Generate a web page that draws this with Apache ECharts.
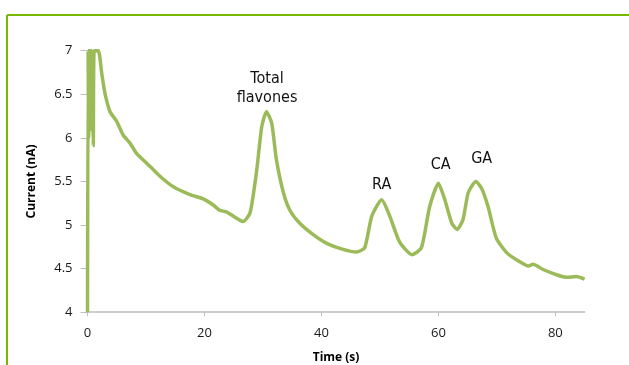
<!DOCTYPE html>
<html>
<head>
<meta charset="utf-8">
<script src="https://cdn.jsdelivr.net/npm/echarts@6/dist/echarts.min.js"></script>
<style>
  html, body { margin: 0; padding: 0; background: #fff; }
  #chart { width: 629px; height: 365px; }
</style>
</head>
<body>
<div id="chart"></div>
<script>
// time (s) and current (nA)
var times = [0, 0.1, 0.2, 0.3, 0.4, 0.5, 0.6, 0.7, 0.8, 0.99, 1.15, 1.85, 2.43, 2.99, 3.85, 4.99, 6.12, 7.26, 8.41, 10.12, 12.39, 14.67, 17.52, 19.79, 21.5, 22.6, 23.8, 26.6, 27.8, 28.9, 29.8, 30.6, 31.5, 32.3, 33.5, 34.6, 36.3, 38.6, 40.9, 43.7, 46.0, 47.4, 48.6, 50.3, 51.7, 53.4, 55.5, 57.1, 58.5, 60.0, 61.1, 62.3, 63.2, 64.2, 65.1, 66.4, 67.4, 68.5, 69.9, 71.7, 73.4, 75.4, 76.2, 77.9, 80.2, 81.9, 83.6, 85.0];
var current = [4, 7, 6.0, 7, 6.3, 7, 6.1, 7, 6.4, 5.91, 7, 7, 6.74, 6.51, 6.30, 6.19, 6.03, 5.94, 5.82, 5.71, 5.56, 5.44, 5.35, 5.30, 5.23, 5.17, 5.15, 5.04, 5.14, 5.61, 6.13, 6.30, 6.17, 5.75, 5.37, 5.17, 5.02, 4.89, 4.79, 4.72, 4.69, 4.74, 5.10, 5.29, 5.10, 4.80, 4.66, 4.74, 5.21, 5.48, 5.29, 5.02, 4.95, 5.06, 5.37, 5.50, 5.42, 5.21, 4.85, 4.68, 4.60, 4.53, 4.55, 4.49, 4.43, 4.40, 4.41, 4.38];

var xTicks = [0, 20, 40, 60, 80];

var peakNames = ['Total\nflavones', 'RA', 'CA', 'GA'];
var peakPos = [[30.7, 6.57], [50.3, 5.46], [60.4, 5.69], [67.4, 5.76]];

var myChart = echarts.init(document.getElementById('chart'));

var points = times.map(function (t, i) { return [t, current[i]]; });
var marks = peakNames.map(function (n, i) {
    return { name: n, coord: peakPos[i], value: n };
});

var labelFont = "'Open Sans', 'DejaVu Sans', sans-serif";

var option = {
    animation: false,
    grid: { left: 87.5, right: 44.4, top: 50.7, bottom: 52.8, containLabel: false, outerBoundsMode: 'none' },
    graphic: [
        { type: 'line', shape: { x1: 7, y1: 15, x2: 629, y2: 15 }, style: { stroke: '#76b900', lineWidth: 2 } },
        { type: 'line', shape: { x1: 7, y1: 15, x2: 7, y2: 365 }, style: { stroke: '#76b900', lineWidth: 2 } }
    ],
    xAxis: {
        type: 'value',
        min: 0,
        max: 85,
        interval: 20,
        name: 'Time (s)',
        nameLocation: 'middle',
        nameGap: 39,
        nameTextStyle: { fontFamily: labelFont, fontWeight: 'bold', fontSize: 12, color: '#000' },
        axisLine: { lineStyle: { color: '#bfbfbf', width: 1.5 } },
        axisTick: { show: true, length: 4, lineStyle: { color: '#bfbfbf' }, customValues: xTicks },
        axisLabel: { fontFamily: labelFont, fontSize: 13, color: '#1a1a1a', margin: 15, customValues: xTicks },
        splitLine: { show: false }
    },
    yAxis: {
        type: 'value',
        min: 4,
        max: 7,
        interval: 0.5,
        name: 'Current (nA)',
        nameLocation: 'middle',
        nameGap: 50,
        nameTextStyle: { fontFamily: labelFont, fontWeight: 'bold', fontSize: 12, color: '#000' },
        axisLine: { show: true, lineStyle: { color: '#bfbfbf', width: 1.5 } },
        axisTick: { show: true, length: 7, lineStyle: { color: '#bfbfbf' } },
        axisLabel: { fontFamily: labelFont, fontSize: 13, color: '#1a1a1a', margin: 15 },
        splitLine: { show: false }
    },
    series: [{
        type: 'line',
        data: points,
        showSymbol: false,
        smooth: 0.2,
        clip: true,
        lineStyle: { color: '#9bbb59', width: 3.5 },
        markPoint: {
            symbol: 'circle',
            symbolSize: 0,
            data: marks,
            label: {
                show: true,
                position: 'inside',
                formatter: function (p) { return p.name; },
                fontFamily: "'Liberation Sans Narrow', 'DejaVu Sans Condensed', sans-serif",
                fontSize: 16,
                lineHeight: 19,
                color: '#111'
            }
        }
    }]
};

myChart.setOption(option);
</script>
</body>
</html>
